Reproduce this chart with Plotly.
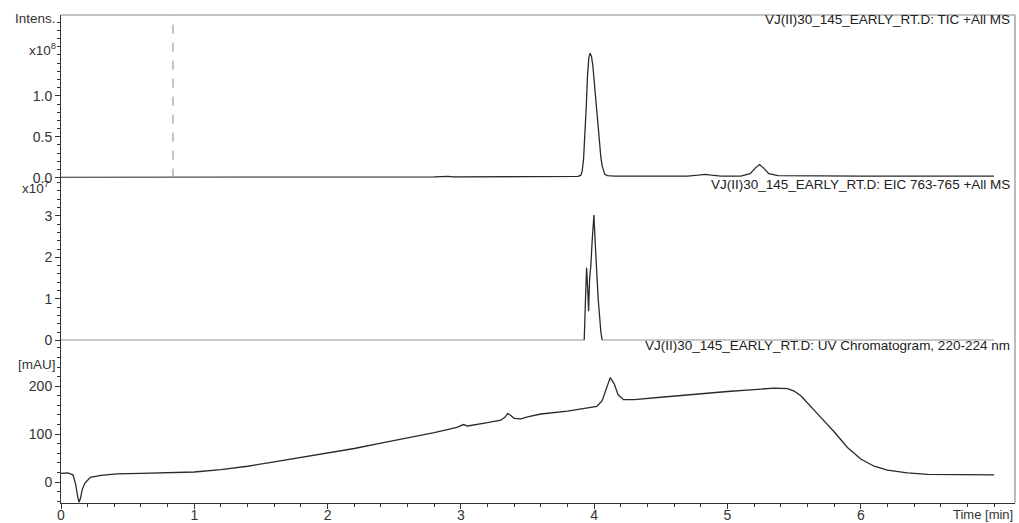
import plotly.graph_objects as go
from plotly.subplots import make_subplots

# ---------------- data ----------------
# TIC +All MS, intensity in units of 1e8
tic_time = [0.00, 0.20, 0.50, 0.84, 1.20, 1.60, 2.00, 2.40, 2.80, 2.86, 2.88, 2.90, 2.95,
            3.30, 3.60, 3.80, 3.86, 3.88, 3.90, 3.91, 3.92, 3.93, 3.94, 3.95, 3.96, 3.97,
            3.98, 3.99, 4.00, 4.01, 4.02, 4.03, 4.04, 4.05, 4.06, 4.07, 4.08, 4.10, 4.15,
            4.40, 4.70, 4.78, 4.83, 4.88, 4.95, 5.10, 5.17, 5.21, 5.24, 5.27, 5.31, 5.38,
            5.60, 6.00, 6.40, 6.80, 7.00]
tic_int = [0.004, 0.005, 0.004, 0.005, 0.005, 0.006, 0.006, 0.007, 0.008, 0.015, 0.02, 0.015, 0.008,
           0.008, 0.009, 0.010, 0.012, 0.015, 0.03, 0.08, 0.22, 0.50, 0.85, 1.25, 1.47, 1.52,
           1.48, 1.37, 1.18, 0.97, 0.76, 0.56, 0.39, 0.25, 0.14, 0.075, 0.04, 0.025, 0.02,
           0.02, 0.02, 0.03, 0.04, 0.03, 0.02, 0.02, 0.05, 0.12, 0.16, 0.12, 0.05, 0.025,
           0.02, 0.02, 0.02, 0.02, 0.02]

# EIC 763-765 +All MS, intensity in units of 1e7
eic_time = [0.00, 1.00, 2.00, 3.00, 3.90, 3.925, 3.935, 3.943, 3.952, 3.958, 3.966, 3.975,
            3.985, 3.998, 4.010, 4.030, 4.050, 4.060, 4.50, 5.50, 6.50, 7.00]
eic_int = [0.0, 0.0, 0.0, 0.0, 0.0, 0.0, 1.0, 1.75, 1.2, 0.7, 1.5, 1.8,
           2.4, 3.02, 2.2, 1.0, 0.2, 0.0, 0.0, 0.0, 0.0, 0.0]

# UV chromatogram 220-224 nm, mAU
uv_time = [0.00, 0.05, 0.09, 0.11, 0.125, 0.135, 0.145, 0.16, 0.18, 0.22, 0.30, 0.42, 0.60,
           0.80, 1.00, 1.20, 1.40, 1.60, 1.80, 2.00, 2.20, 2.40, 2.60, 2.80, 2.97, 3.00,
           3.02, 3.05, 3.10, 3.20, 3.30, 3.33, 3.35, 3.37, 3.40, 3.45, 3.50, 3.60, 3.80,
           3.95, 4.02, 4.06, 4.09, 4.12, 4.15, 4.18, 4.22, 4.30, 4.50, 4.80, 5.00, 5.20,
           5.35, 5.45, 5.50, 5.55, 5.62, 5.70, 5.80, 5.90, 6.00, 6.10, 6.20, 6.35, 6.50,
           6.80, 7.00]
uv_mau = [18, 19, 15, -5, -30, -42, -35, -15, -2, 10, 14, 17, 18,
          19, 21, 26, 33, 42, 51, 60, 70, 81, 92, 103, 114, 117,
          120, 117, 119, 124, 129, 135, 143, 140, 133, 132, 136, 142, 148,
          154, 158, 170, 195, 218, 205, 182, 172, 172, 177, 185, 189, 193,
          196, 195, 190, 180, 160, 135, 105, 72, 48, 33, 25, 19, 16,
          15, 15]

titles = ["VJ(II)30_145_EARLY_RT.D: TIC +All MS",
          "VJ(II)30_145_EARLY_RT.D: EIC 763-765 +All MS",
          "VJ(II)30_145_EARLY_RT.D: UV Chromatogram, 220-224 nm"]

x_ticks = [0, 1, 2, 3, 4, 5, 6]
tic_ticks = [0.0, 0.5, 1.0]
tic_ticktext = ["0.0", "0.5", "1.0"]
eic_ticks = [0, 1, 2, 3]
uv_ticks = [0, 100, 200]

# ---------------- figure ----------------
fig = make_subplots(rows=3, cols=1, shared_xaxes=True, vertical_spacing=0)

line_style = dict(color="#2a2a2a", width=1.3)
fig.add_trace(go.Scatter(x=tic_time, y=tic_int, mode="lines", line=line_style), row=1, col=1)
fig.add_trace(go.Scatter(x=eic_time, y=eic_int, mode="lines", line=line_style), row=2, col=1)
fig.add_trace(go.Scatter(x=uv_time, y=uv_mau, mode="lines", line=line_style), row=3, col=1)

font_family = "Liberation Sans, Arial, sans-serif"
axis_col = "#333333"
xr = [0, 7.157]


def minor_vals(start, stop, step):
    n = int(round((stop - start) / step))
    return [round(start + k * step, 6) for k in range(n + 1)]


def minor(vals):
    return dict(tickmode="array", tickvals=vals, ticklen=3, ticks="outside", tickcolor=axis_col)


common_y = dict(showgrid=False, zeroline=False, showline=True, linecolor=axis_col, linewidth=1,
                ticks="outside", ticklen=5, tickcolor=axis_col, automargin=False,
                tickfont=dict(size=14, color="#333"))

fig.update_layout(
    width=1019, height=523,
    margin=dict(l=61, r=4, t=15, b=20),
    paper_bgcolor="white", plot_bgcolor="white",
    showlegend=False,
    font=dict(family=font_family, size=14, color="#333"),
)

for i in (1, 2):
    fig.update_xaxes(range=xr, showgrid=False, zeroline=False, showline=False,
                     showticklabels=False, ticks="", automargin=False, row=i, col=1)
fig.update_xaxes(range=xr, showgrid=False, zeroline=False, showline=True, linecolor=axis_col,
                 ticks="outside", ticklen=5, tickcolor=axis_col, tickvals=x_ticks,
                 tickfont=dict(size=14, color="#333"), automargin=False,
                 ticklabelstandoff=-6,
                 minor=minor(minor_vals(0, 7.0, 0.2)),
                 row=3, col=1)

fig.update_yaxes(range=[0, 1.988], tickvals=tic_ticks, ticktext=tic_ticktext,
                 minor=minor(minor_vals(0, 1.9, 0.1)), row=1, col=1, **common_y)
fig.update_yaxes(range=[0, 3.92], tickvals=eic_ticks,
                 minor=minor(minor_vals(0, 3.8, 0.2)), row=2, col=1, **common_y)
fig.update_yaxes(range=[-43.75, 295.8], tickvals=uv_ticks,
                 minor=minor(minor_vals(-40, 280, 20)), row=3, col=1, **common_y)

# panel titles (right aligned at top of each panel)
title_y = [0.99, 0.652, 0.322]
for t, yy in zip(titles, title_y):
    fig.add_annotation(text=t, xref="paper", yref="paper", x=0.997, y=yy,
                       xanchor="right", yanchor="middle", showarrow=False,
                       font=dict(size=13.5, color="#222"))

# left axis unit labels
left_labels = [("Intens.", 0.993, -3), ("x10<sup>8</sup>", 0.93, -3),
               ("x10<sup>7</sup>", 0.647, -10), ("[mAU]", 0.283, -3)]
for t, yy, xs in left_labels:
    fig.add_annotation(text=t, xref="paper", yref="paper", x=0, y=yy, xshift=xs,
                       xanchor="right", yanchor="middle", showarrow=False,
                       font=dict(size=13.5, color="#333"))

fig.add_annotation(text="Time [min]", xref="paper", yref="paper", x=1, y=0, yshift=-2,
                   xanchor="right", yanchor="top", showarrow=False,
                   font=dict(size=13, color="#333"))

# frame lines: top border of first panel, right border, dashed marker line
fig.add_shape(type="line", xref="paper", yref="paper", x0=0, x1=1, y0=1, y1=1,
              line=dict(color="#888", width=1))
fig.add_shape(type="line", xref="paper", yref="paper", x0=1, x1=1, y0=0.0, y1=1,
              line=dict(color="#777", width=1))
fig.add_shape(type="line", xref="x", yref="y domain", x0=0.84, x1=0.84, y0=0, y1=1,
              line=dict(color="#888", width=1, dash="dash"))

fig.write_html("out.html", config={"displayModeBar": False},
               post_script="document.body.style.margin='0';document.body.style.overflow='hidden';")
